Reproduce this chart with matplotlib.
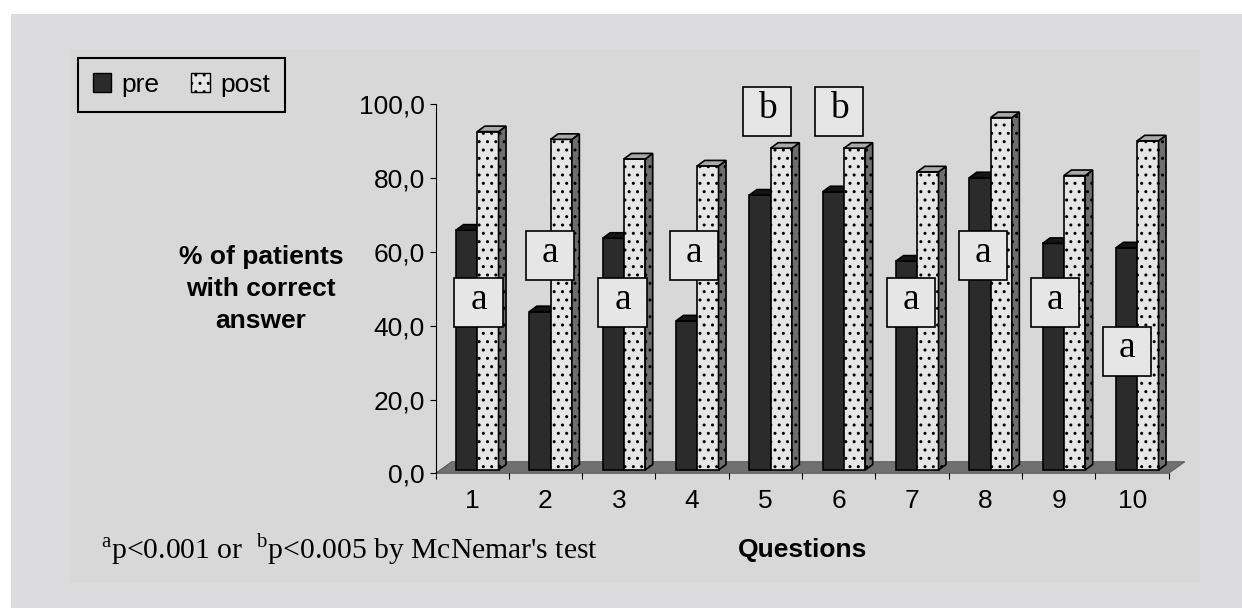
import matplotlib
matplotlib.use("Agg")
import matplotlib.pyplot as plt
from matplotlib.patches import Polygon, Rectangle, Patch

# ---------------- data ----------------
questions = ["1", "2", "3", "4", "5", "6", "7", "8", "9", "10"]
pre = [65.0, 42.9, 62.8, 40.4, 74.5, 75.4, 56.6, 79.2, 61.4, 60.2]
post = [91.7, 89.6, 84.3, 82.4, 87.2, 87.2, 80.8, 95.5, 79.8, 89.2]
significance = ["a", "a", "a", "a", "b", "b", "a", "a", "a", "a"]
series_names = ["pre", "post"]
yticks = [0, 20, 40, 60, 80, 100]
ytick_labels = ["0,0", "20,0", "40,0", "60,0", "80,0", "100,0"]
y_label = "% of patients\nwith correct\nanswer"
x_label = "Questions"
footnote = r"$^{\mathrm{a}}$p<0.001 or  $^{\mathrm{b}}$p<0.005 by McNemar's test"

# ---------------- layout / style ----------------
ann_x = [0.586, 1.561, 2.55, 3.525, 4.52, 5.502, 6.484, 7.466, 8.448, 9.43]
ann_y = [46.2, 59.0, 46.2, 59.0, 98.1, 98.1, 46.2, 59.0, 46.2, 33.1]
ann_w, ann_h = 0.66, 13.2
bar_off, bar_w = 0.28, 0.29
base = 0.9
ddx, ddy = 0.102, 1.49
floor_dx, floor_dy = 0.22, 3.14

plt.rcParams["font.family"] = ["Liberation Sans", "DejaVu Sans"]
plt.rcParams["mathtext.fontset"] = "custom"
plt.rcParams["mathtext.rm"] = "Liberation Serif"
plt.rcParams["hatch.linewidth"] = 1.0

W, H = 1242, 608
fig = plt.figure(figsize=(W / 100, H / 100), dpi=100, facecolor="white")
fig.patches.append(Rectangle((11 / W, 0), (W - 11) / W, (H - 14) / H,
                             transform=fig.transFigure, facecolor="#dcdcde",
                             edgecolor="none", zorder=-10))
fig.patches.append(Rectangle((70 / W, 1 - 583 / H), 1130 / W, 534 / H,
                             transform=fig.transFigure, facecolor="#d8d8d8",
                             edgecolor="none", zorder=-9))

ax = fig.add_axes([435.5 / W, 1 - 473.3 / H, 733.3 / W, 369 / H])
ax.patch.set_visible(False)
ax.set_xlim(0, 10)
ax.set_ylim(0, 100)
for s in ["top", "right", "bottom"]:
    ax.spines[s].set_visible(False)
ax.spines["left"].set_linewidth(0.8)

ax.set_yticks(yticks)
ax.set_yticklabels(ytick_labels)
ax.tick_params(axis="y", direction="out", length=4, width=0.8, labelsize=19, pad=3.5)

n = len(questions)
ax.set_xticks(range(n + 1))
ax.set_xticklabels([])
ax.set_xticks([i + 0.5 for i in range(n)], minor=True)
ax.set_xticklabels(questions, minor=True)
ax.tick_params(axis="x", which="major", direction="out", length=4.5, width=0.8)
ax.tick_params(axis="x", which="minor", length=0, labelsize=19, pad=11)

# floor
ax.add_patch(Polygon([(0, 0), (n, 0), (n + floor_dx, floor_dy), (floor_dx, floor_dy)],
                     closed=True, facecolor="#707070", edgecolor="#505050",
                     linewidth=0.6, clip_on=False, zorder=1))

lw = 1.2
for i in range(n):
    x0 = i + bar_off
    v = pre[i]
    ax.add_patch(Rectangle((x0, base), bar_w, v, facecolor="#2b2b2b",
                           edgecolor="black", linewidth=lw, clip_on=False, zorder=2))
    ax.add_patch(Polygon([(x0, base + v), (x0 + ddx, base + v + ddy),
                          (x0 + bar_w + ddx, base + v + ddy), (x0 + bar_w, base + v)],
                         closed=True, facecolor="#151515", edgecolor="black",
                         linewidth=lw, clip_on=False, zorder=2))
    x1 = x0 + bar_w
    v = post[i]
    ax.add_patch(Rectangle((x1, base), bar_w, v, facecolor="#e6e6e6", hatch="..",
                           edgecolor="black", linewidth=lw, clip_on=False, zorder=2))
    ax.add_patch(Polygon([(x1 + bar_w, base), (x1 + bar_w + ddx, base + ddy),
                          (x1 + bar_w + ddx, base + v + ddy), (x1 + bar_w, base + v)],
                         closed=True, facecolor="#6e6e6e", hatch="..", edgecolor="black",
                         linewidth=lw, clip_on=False, zorder=2))
    ax.add_patch(Polygon([(x1, base + v), (x1 + ddx, base + v + ddy),
                          (x1 + bar_w + ddx, base + v + ddy), (x1 + bar_w, base + v)],
                         closed=True, facecolor="#a9a9a9", edgecolor="black",
                         linewidth=lw, clip_on=False, zorder=2))

# significance boxes
for i in range(n):
    cx, cy = ann_x[i], ann_y[i]
    ax.add_patch(Rectangle((cx - ann_w / 2, cy - ann_h / 2), ann_w, ann_h,
                           facecolor="#e6e6e6", edgecolor="black", linewidth=1.2,
                           clip_on=False, zorder=5))
    ax.text(cx, cy + 0.8, significance[i], ha="center", va="center",
            fontsize=27, family="Liberation Serif", zorder=6)

ax.set_ylabel(y_label, rotation=0, fontsize=19, fontweight="bold",
              ha="center", va="center", multialignment="center", linespacing=1.42)
ax.yaxis.set_label_coords(-0.238, 0.5)
ax.set_xlabel(x_label, fontsize=19, fontweight="bold", va="baseline")
ax.xaxis.set_label_coords(0.5, -0.227)

handles = [Patch(facecolor="#2b2b2b", edgecolor="black"),
           Patch(facecolor="#e6e6e6", edgecolor="black", hatch="..")]
leg = ax.legend(handles, series_names, loc="upper left",
                bbox_to_anchor=(78 / W, 1 - 58 / H), bbox_transform=fig.transFigure,
                borderaxespad=0, ncol=2, fontsize=19, frameon=True, fancybox=False,
                facecolor="#d8d8d8", framealpha=1, edgecolor="black",
                handlelength=0.7, handleheight=0.7, handletextpad=0.4,
                columnspacing=1.2, borderpad=0.56)
leg.get_frame().set_linewidth(1.5)

fig.text(101 / W, 1 - 559 / H, footnote, fontsize=21.3, family="Liberation Serif",
         va="baseline", ha="left")

fig.savefig("out.png", dpi=100, facecolor=fig.get_facecolor())
